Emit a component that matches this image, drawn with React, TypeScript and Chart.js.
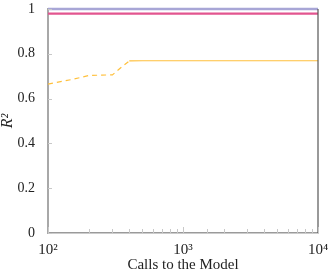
import React, { useEffect, useRef } from "react";
import { Chart, registerables } from "chart.js";
Chart.register(...registerables);

const calls = [100, 150, 200, 250, 300, 350, 400, 500, 700, 1000, 2000, 5000, 10000];
const perfectSeries = [1, 1, 1, 1, 1, 1, 1, 1, 1, 1, 1, 1, 1];
const pinkSeries = [0.979, 0.979, 0.979, 0.979, 0.979, 0.979, 0.979, 0.979, 0.979, 0.979, 0.979, 0.979, 0.979];
const orangeSeries = [0.665, 0.685, 0.703, 0.705, 0.706, 0.74, 0.768, 0.769, 0.769, 0.769, 0.769, 0.769, 0.769];
const dashedUntil = 400;
const yTicks = [0, 0.2, 0.4, 0.6, 0.8, 1];

const SUP: Record<string, string> = { "0": "⁰", "1": "¹", "2": "²", "3": "³", "4": "⁴", "5": "⁵" };
const FONT = "'Liberation Serif', 'DejaVu Serif', serif";

const frame = {
  id: "frame",
  afterDraw(chart: any) {
    const { ctx, chartArea: a, scales } = chart;
    ctx.save();
    ctx.strokeStyle = "#555";
    ctx.lineWidth = 1.2;
    ctx.beginPath();
    ctx.moveTo(a.right, a.top);
    ctx.lineTo(a.right, a.bottom);
    ctx.stroke();
    ctx.strokeStyle = "#c8c8c8";
    ctx.lineWidth = 1;
    const xs = scales.x;
    xs.ticks.forEach((t: any) => {
      const px = Math.round(xs.getPixelForValue(t.value)) + 0.5;
      const major = Math.abs(Math.log10(t.value) - Math.round(Math.log10(t.value))) < 1e-9;
      ctx.beginPath();
      ctx.moveTo(px, a.bottom);
      ctx.lineTo(px, a.bottom - (major ? 6 : 4));
      ctx.stroke();
    });
    const ys = scales.y;
    yTicks.forEach((v) => {
      const py = Math.round(ys.getPixelForValue(v)) + 0.5;
      ctx.beginPath();
      ctx.moveTo(a.left, py);
      ctx.lineTo(a.left + 4, py);
      ctx.stroke();
    });
    ctx.restore();
  },
};

export default function App() {
  const ref = useRef<HTMLCanvasElement>(null);
  useEffect(() => {
    document.body.style.margin = "0";
    const chart = new Chart(ref.current!, {
      type: "line",
      data: {
        datasets: [
          {
            data: calls.map((c, i) => ({ x: c, y: orangeSeries[i] })),
            borderColor: "#ffc03c",
            borderWidth: 1.2,
            pointRadius: 0,
            segment: {
              borderDash: (ctx: any) => (ctx.p1.parsed.x <= dashedUntil ? [5, 4] : undefined),
            },
          },
          {
            data: calls.map((c, i) => ({ x: c, y: pinkSeries[i] })),
            borderColor: "#e2558f",
            borderWidth: 2.2,
            pointRadius: 0,
          },
          {
            data: calls.map((c, i) => ({ x: c, y: perfectSeries[i] })),
            borderColor: "#a8a6d6",
            borderWidth: 2.5,
            pointRadius: 0,
          },
          {
            data: calls.map((c, i) => ({ x: c, y: perfectSeries[i] })),
            borderColor: "#8a86c0",
            borderWidth: 1,
            borderDash: [1, 2],
            pointRadius: 0,
          },
        ],
      },
      options: {
        animation: false,
        responsive: false,
        clip: false as any,
        layout: { padding: { top: 9, right: 15, left: 0, bottom: 0 } },
        plugins: { legend: { display: false }, tooltip: { enabled: false } },
        scales: {
          x: {
            type: "logarithmic",
            min: 100,
            max: 10000,
            grid: { display: false },
            border: { display: true, color: "#9a9a9a", width: 1.5 },
            afterFit: (s: any) => {
              s.height = 40;
            },
            ticks: {
              autoSkip: false,
              maxRotation: 0,
              color: "#222",
              padding: 2,
              font: { family: FONT, size: 15, lineHeight: 1 },
              callback: (v: any) => {
                const l = Math.log10(Number(v));
                if (Math.abs(l - Math.round(l)) > 1e-9) return "";
                return "10" + String(Math.round(l)).split("").map((d) => SUP[d]).join("");
              },
            },
            title: {
              display: true,
              text: "Calls to the Model",
              color: "#222",
              font: { family: FONT, size: 15, lineHeight: 1 },
              padding: { top: 0, bottom: 0 },
            },
          },
          y: {
            min: 0,
            max: 1,
            grid: { display: false },
            border: { display: true, color: "#a8a8a8", width: 2 },
            afterFit: (s: any) => {
              s.width = 48;
              s.paddingTop = 0;
              s.paddingBottom = 0;
            },
            afterBuildTicks: (s: any) => {
              s.ticks = yTicks.map((v) => ({ value: v }));
            },
            ticks: {
              color: "#222",
              padding: 5,
              font: { family: FONT, size: 14 },
              callback: (v: any) => String(Number(Number(v).toFixed(1))),
            },
            title: {
              display: true,
              text: "R²",
              color: "#222",
              font: { family: FONT, size: 16, style: "italic", lineHeight: 1 },
              padding: { top: 0, bottom: 4 },
            },
          },
        },
      },
      plugins: [frame],
    });
    return () => chart.destroy();
  }, []);
  return (
    <div style={{ position: "absolute", left: 0, top: 0, width: 333, height: 273 }}>
      <canvas ref={ref} width={333} height={273} style={{ width: 333, height: 273, display: "block" }} />
    </div>
  );
}
